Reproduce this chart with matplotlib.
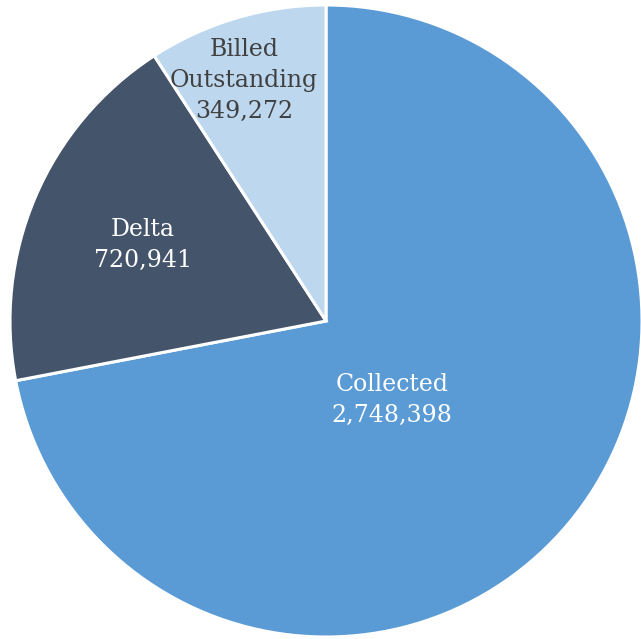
import matplotlib
matplotlib.use("Agg")
import matplotlib.pyplot as plt

categories = ["Collected", "Delta", "Billed\nOutstanding"]
values = [2748398, 720941, 349272]
colors = ["#5B9BD5", "#44546A", "#BDD7EE"]
text_colors = ["white", "white", "#404040"]
# label positions in data units (pie radius = 1)
label_pos = [(0.21, -0.25), (-0.58, 0.24), (-0.26, 0.76)]

fig = plt.figure(figsize=(6.41, 6.39), dpi=100)
ax = fig.add_axes([10/641, 2/639, 632/641, 632/639])
wedges, _ = ax.pie(values, colors=colors, startangle=90, counterclock=False,
                   radius=1, wedgeprops=dict(edgecolor="white", linewidth=2.2))
for cat, v, tc, (x, y) in zip(categories, values, text_colors, label_pos):
    ax.text(x, y, f"{cat}\n{v:,}", ha="center", va="center", color=tc,
            fontsize=17, family="DejaVu Serif", linespacing=1.45)
ax.set_xlim(-1, 1)
ax.set_ylim(-1, 1)
ax.set_aspect("equal")
ax.axis("off")
fig.savefig("out.png", dpi=100)
